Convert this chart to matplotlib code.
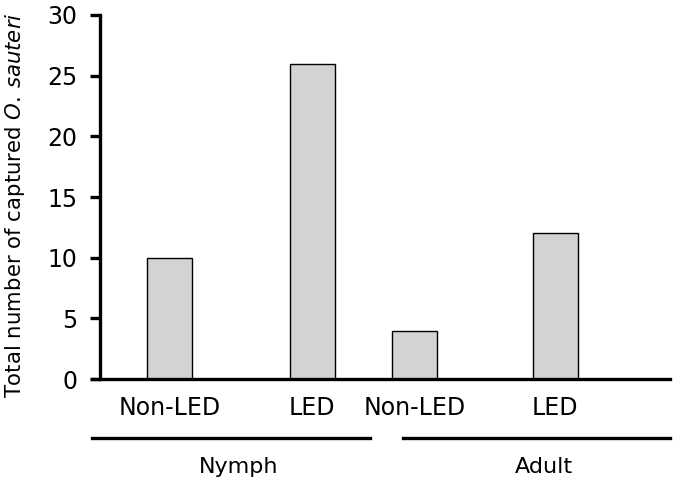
import matplotlib
matplotlib.use("Agg")
import matplotlib.pyplot as plt
import matplotlib.transforms as transforms

# data
groups = ["Nymph", "Adult"]
treatments = ["Non-LED", "LED"]
counts = [10, 26, 4, 12]
yticks = [0, 5, 10, 15, 20, 25, 30]

plt.rcParams["font.family"] = "DejaVu Sans"
plt.rcParams["mathtext.fontset"] = "dejavusans"

fig = plt.figure(figsize=(6.75, 4.83), dpi=100)
ax = fig.add_axes([0.148, 0.215, 0.845, 0.754])

xpos = [0, 1, 1.72, 2.71]
ax.bar(xpos, counts, width=0.317, color="#d3d3d3", edgecolor="black", linewidth=1.0)

ax.set_xlim(-0.493, 3.52)
ax.set_ylim(0, 30)
ax.set_yticks(yticks)
ax.set_xticks(xpos)
ax.set_xticklabels(treatments * len(groups))

for s in ["top", "right"]:
    ax.spines[s].set_visible(False)
ax.spines["left"].set_linewidth(2.4)
ax.spines["bottom"].set_linewidth(2.4)
ax.spines["bottom"].set_bounds(-0.55, 3.52)
ax.tick_params(axis="y", direction="out", length=7, width=2.4, labelsize=17, pad=9)
ax.tick_params(axis="x", length=0, labelsize=17, pad=12)

ax.set_ylabel("Total number of captured $\\mathit{O.\\,sauteri}$", fontsize=15.3)
ax.yaxis.set_label_coords(-0.128, 0.478)

# group lines and labels under the axis
trans = transforms.blended_transform_factory(ax.transData, ax.transAxes)
spans = [(-0.55, 1.41), (1.64, 3.52)]
for g, (x0, x1) in zip(groups, spans):
    ax.plot([x0, x1], [-0.162, -0.162], color="black", lw=2.4, transform=trans, clip_on=False)
    ax.text((x0 + x1) / 2 + 0.05, -0.242, g, transform=trans, ha="center", va="center", fontsize=16)

fig.savefig("out.png", dpi=100)
